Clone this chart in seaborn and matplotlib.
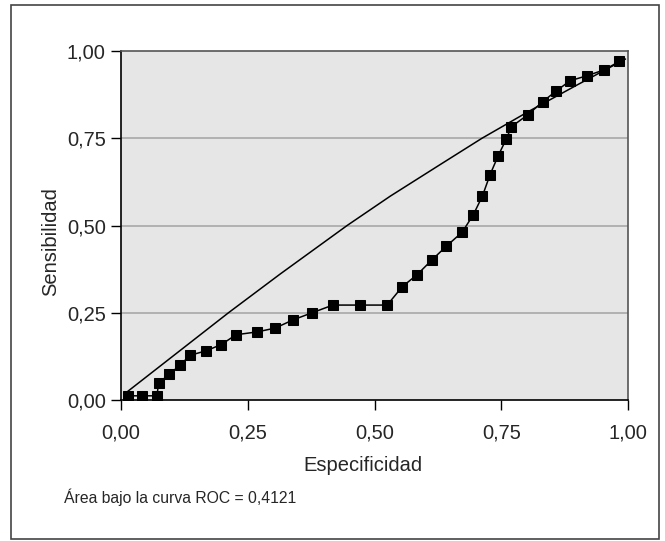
import matplotlib
matplotlib.use('Agg')
import matplotlib.pyplot as plt
import seaborn as sns
import pandas as pd
from matplotlib.patches import Rectangle

# puntos de la curva ROC
especificidad = [0.014, 0.041, 0.071, 0.074, 0.095, 0.116, 0.136, 0.168, 0.198, 0.227,
                 0.268, 0.304, 0.340, 0.377, 0.418, 0.471, 0.525, 0.555, 0.584, 0.613,
                 0.642, 0.673, 0.695, 0.713, 0.728, 0.744, 0.760, 0.770, 0.803, 0.832,
                 0.858, 0.886, 0.919, 0.953, 0.983]
sensibilidad = [0.012, 0.012, 0.012, 0.048, 0.074, 0.099, 0.128, 0.141, 0.159, 0.187,
                0.195, 0.206, 0.230, 0.250, 0.272, 0.272, 0.272, 0.325, 0.359, 0.401,
                0.441, 0.481, 0.531, 0.585, 0.646, 0.700, 0.748, 0.783, 0.818, 0.855,
                0.885, 0.915, 0.929, 0.946, 0.970]

# curva suavizada de referencia
ref_x = [0.0065, 0.10, 0.212, 0.314, 0.446, 0.531, 0.630, 0.712, 0.803, 0.90, 0.995]
ref_y = [0.017, 0.123, 0.250, 0.361, 0.500, 0.584, 0.675, 0.750, 0.826, 0.903, 0.977]

ticks = [0, 0.25, 0.5, 0.75, 1.0]
tick_labels = ['0,00', '0,25', '0,50', '0,75', '1,00']
area_texto = 'Área bajo la curva ROC = 0,4121'

sns.set_style('white')
plt.rcParams['font.family'] = ['Liberation Sans', 'DejaVu Sans']

df = pd.DataFrame({'Especificidad': especificidad, 'Sensibilidad': sensibilidad})
df_ref = pd.DataFrame({'x': ref_x, 'y': ref_y})

fig = plt.figure(figsize=(6.65, 5.41), dpi=100)
ax = fig.add_axes([121 / 665, 1 - 400 / 541, 507 / 665, 349 / 541])
ax.set_facecolor('#e6e6e6')

for t in [0.25, 0.5, 0.75]:
    ax.axhline(t, color='#a8a8a8', lw=1.2, zorder=1)

sns.lineplot(data=df_ref, x='x', y='y', sort=False, color='black', lw=1.1, ax=ax, zorder=2)
sns.lineplot(data=df, x='Especificidad', y='Sensibilidad', sort=False, color='black', lw=1.1,
             marker='s', markersize=6.5, markeredgecolor='black', ax=ax, zorder=3)

ax.set_xlim(0, 1)
ax.set_ylim(0, 1)
ax.set_xticks(ticks)
ax.set_xticklabels(tick_labels)
ax.set_yticks(ticks)
ax.set_yticklabels(tick_labels)
ax.tick_params(axis='both', direction='out', length=7, width=1, labelsize=14.5, color='black',
               pad=4, bottom=True, left=True)
ax.tick_params(axis='x', pad=10)

ax.set_xlabel('Especificidad', fontsize=14.5)
ax.set_ylabel('Sensibilidad', fontsize=14.5)
ax.xaxis.set_label_coords(0.477, -0.16)
ax.yaxis.set_label_coords(-0.12, 0.454)

for s in ['left', 'bottom']:
    ax.spines[s].set_color('black')
    ax.spines[s].set_linewidth(1.2)
for s in ['top', 'right']:
    ax.spines[s].set_color('#555555')
    ax.spines[s].set_linewidth(1.2)

fig.text(64 / 665, 1 - 497 / 541, area_texto, fontsize=11.3, va='center', ha='left')

fig.patches.append(Rectangle((11 / 665, 1 - 539 / 541), 648 / 665, 534 / 541,
                             transform=fig.transFigure, fill=False, edgecolor='#444444', lw=1.2))

fig.savefig('out.png', dpi=100)
